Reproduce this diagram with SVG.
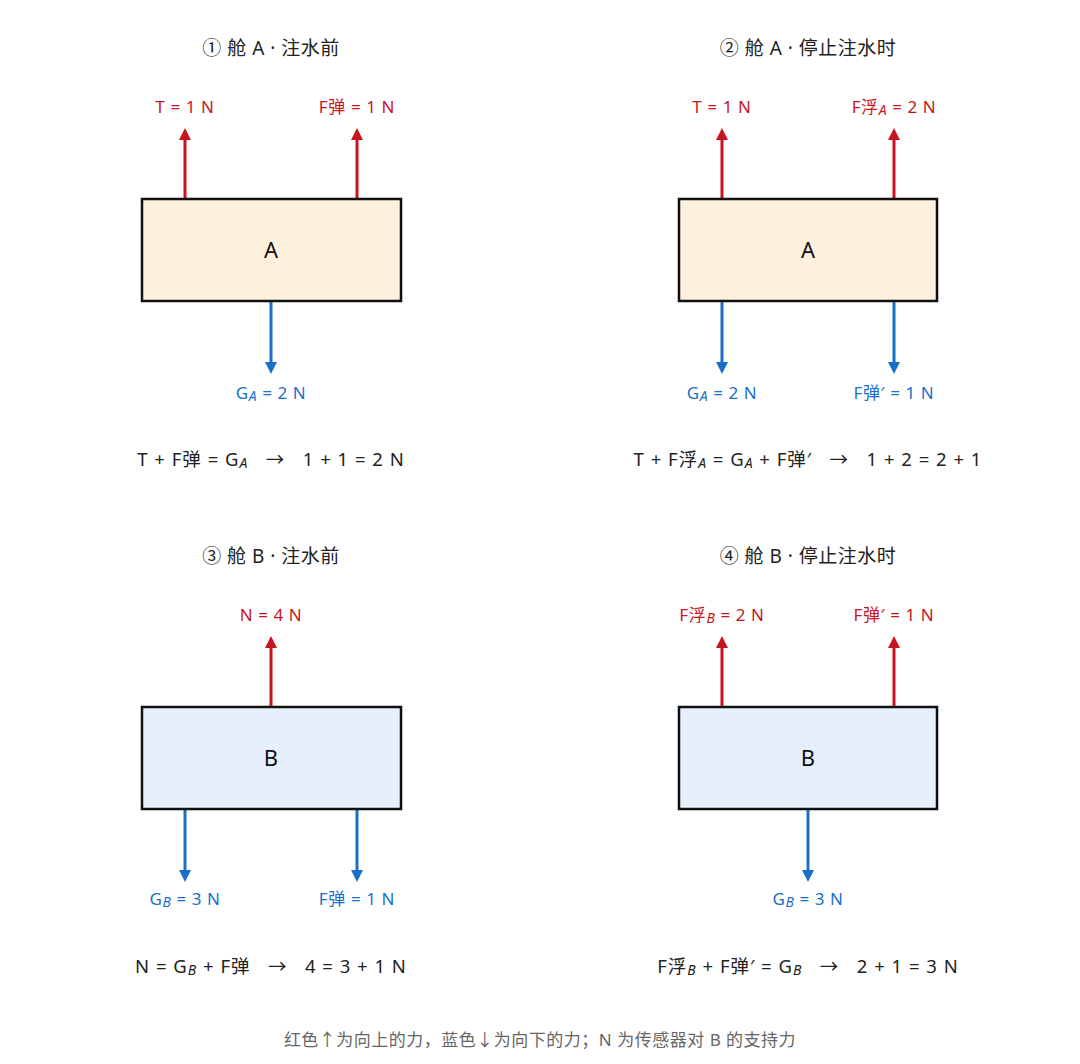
<svg xmlns="http://www.w3.org/2000/svg" width="1080" height="1064" viewBox="0 0 1080 1064">
<style>
text{font-family:"Noto Sans","Noto Sans CJK SC",sans-serif;text-anchor:middle}
.t{font-size:19px;fill:#222;letter-spacing:0.5px}
.r{font-size:17px;fill:#c8141e;letter-spacing:0.6px}
.b{font-size:17px;fill:#1a6fc8;letter-spacing:0.6px}
.e{font-size:18.5px;fill:#222;letter-spacing:1px}
.n{font-size:22px;fill:#111}
.s{font-style:italic;font-size:14px}
.up{stroke:#c8141e;stroke-width:3;marker-end:url(#mr)}
.dn{stroke:#1a6fc8;stroke-width:3;marker-end:url(#mb)}
.bxA{fill:#fdf0dc;stroke:#111;stroke-width:2.5}
.bxB{fill:#e6f0fc;stroke:#111;stroke-width:2.5}
</style>
<defs>
<marker id="mr" markerWidth="4" markerHeight="4" refX="2" refY="2" orient="auto" markerUnits="strokeWidth"><path d="M0,0 L4,2 L0,4 z" fill="#c8141e"/></marker>
<marker id="mb" markerWidth="4" markerHeight="4" refX="2" refY="2" orient="auto" markerUnits="strokeWidth"><path d="M0,0 L4,2 L0,4 z" fill="#1a6fc8"/></marker>
</defs>
<rect width="1080" height="1064" fill="#fff"/>
<g id="connectors">
<line class="up" x1="185" y1="199" x2="185" y2="134"/>
<line class="up" x1="357" y1="199" x2="357" y2="134"/>
<line class="dn" x1="271" y1="302" x2="271" y2="368"/>
<line class="up" x1="722" y1="199" x2="722" y2="134"/>
<line class="up" x1="894" y1="199" x2="894" y2="134"/>
<line class="dn" x1="722" y1="302" x2="722" y2="368"/>
<line class="dn" x1="894" y1="302" x2="894" y2="368"/>
<line class="up" x1="271" y1="707" x2="271" y2="642"/>
<line class="dn" x1="185" y1="810" x2="185" y2="876"/>
<line class="dn" x1="357" y1="810" x2="357" y2="876"/>
<line class="up" x1="722" y1="707" x2="722" y2="642"/>
<line class="up" x1="894" y1="707" x2="894" y2="642"/>
<line class="dn" x1="808" y1="810" x2="808" y2="876"/>
</g>
<g id="panel1">
<text class="t" x="271" y="55">① 舱 A · 注水前</text>
<rect class="bxA" x="142" y="199" width="259" height="102"/>
<text class="n" x="271" y="258">A</text>
<text class="r" x="185" y="113">T = 1 N</text>
<text class="r" x="357" y="113">F弹 = 1 N</text>
<text class="b" x="271" y="399">G<tspan class="s" dy="2">A</tspan><tspan dy="-2"> = 2 N</tspan></text>
<text class="e" x="271" y="466" xml:space="preserve">T + F弹 = G<tspan class="s" dy="2">A</tspan><tspan dy="-2">   →   1 + 1 = 2 N</tspan></text>
</g>
<g id="panel2">
<text class="t" x="808" y="55">② 舱 A · 停止注水时</text>
<rect class="bxA" x="679" y="199" width="258" height="102"/>
<text class="n" x="808" y="258">A</text>
<text class="r" x="722" y="113">T = 1 N</text>
<text class="r" x="894" y="113">F浮<tspan class="s" dy="2">A</tspan><tspan dy="-2"> = 2 N</tspan></text>
<text class="b" x="722" y="399">G<tspan class="s" dy="2">A</tspan><tspan dy="-2"> = 2 N</tspan></text>
<text class="b" x="894" y="399">F弹′ = 1 N</text>
<text class="e" x="808" y="466" xml:space="preserve">T + F浮<tspan class="s" dy="2">A</tspan><tspan dy="-2"> = G</tspan><tspan class="s" dy="2">A</tspan><tspan dy="-2"> + F弹′   →   1 + 2 = 2 + 1</tspan></text>
</g>
<g id="panel3">
<text class="t" x="271" y="563">③ 舱 B · 注水前</text>
<rect class="bxB" x="142" y="707" width="259" height="102"/>
<text class="n" x="271" y="766">B</text>
<text class="r" x="271" y="621">N = 4 N</text>
<text class="b" x="185" y="905">G<tspan class="s" dy="2">B</tspan><tspan dy="-2"> = 3 N</tspan></text>
<text class="b" x="357" y="905">F弹 = 1 N</text>
<text class="e" x="271" y="973" xml:space="preserve">N = G<tspan class="s" dy="2">B</tspan><tspan dy="-2"> + F弹   →   4 = 3 + 1 N</tspan></text>
</g>
<g id="panel4">
<text class="t" x="808" y="563">④ 舱 B · 停止注水时</text>
<rect class="bxB" x="679" y="707" width="258" height="102"/>
<text class="n" x="808" y="766">B</text>
<text class="r" x="722" y="621">F浮<tspan class="s" dy="2">B</tspan><tspan dy="-2"> = 2 N</tspan></text>
<text class="r" x="894" y="621">F弹′ = 1 N</text>
<text class="b" x="808" y="905">G<tspan class="s" dy="2">B</tspan><tspan dy="-2"> = 3 N</tspan></text>
<text class="e" x="808" y="973" xml:space="preserve">F浮<tspan class="s" dy="2">B</tspan><tspan dy="-2"> + F弹′ = G</tspan><tspan class="s" dy="2">B</tspan><tspan dy="-2">   →   2 + 1 = 3 N</tspan></text>
</g>
<g id="caption">
<text x="540" y="1046" style="font-size:17px;fill:#666;letter-spacing:0.5px">红色↑为向上的力，蓝色↓为向下的力；N 为传感器对 B 的支持力</text>
</g>
</svg>
